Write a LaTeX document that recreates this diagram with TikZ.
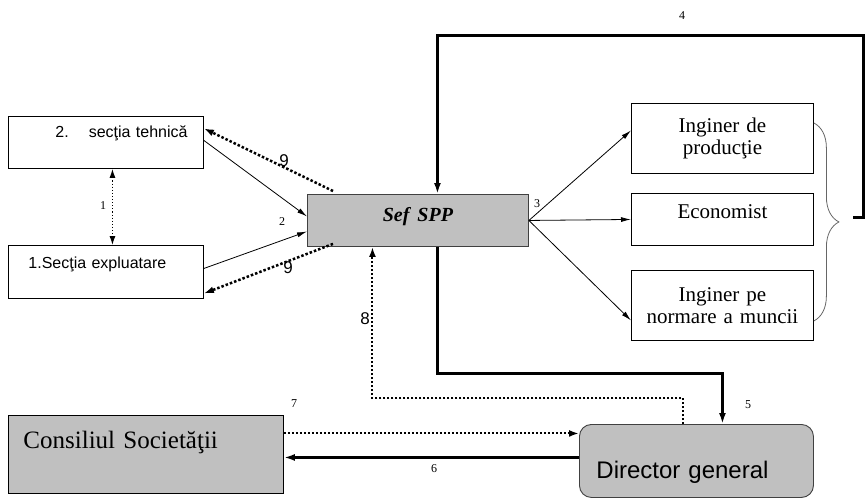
\documentclass[tikz,border=0pt]{standalone}
\usepackage{fontspec}
\setmainfont{Liberation Serif}
\setsansfont{Liberation Sans}
\usepackage{xcolor}
\usetikzlibrary{
  arrows.meta,
  positioning,
  calc,
  decorations.pathreplacing
}
\definecolor{boxgray}{RGB}{192,192,192}

\begin{document}
\begin{tikzpicture}[
    x=1pt, y=-1pt,
    every node/.style={font=\fontsize{12}{14}\selectfont},
    box/.style={
      draw,
      line width=0.9pt,
      anchor=north west,
      inner xsep=4pt,
      inner ysep=3pt
    },
    sbox/.style={
      box,
      font=\sffamily\fontsize{16}{18}\selectfont,
      align=left,
      text width=187pt
    },
    rbox/.style={
      box,
      font=\fontsize{21}{22}\selectfont,
      align=center,
      minimum width=182pt,
      text width=174pt
    },
    gbox/.style={box, fill=boxgray},
    num/.style={font=\fontsize{12}{14}\selectfont, inner sep=0pt},
    bignum/.style={font=\sffamily\fontsize{17}{19}\selectfont, inner sep=0pt},
    ar/.style={-{Latex[length=10pt, width=5pt]}, line width=0.8pt},
    thk/.style={-{Latex[length=11pt, width=7pt]}, line width=3pt},
    dotar/.style={-{Latex[length=10pt, width=7pt]}, line width=2.5pt, dotted},
    fdot/.style={{Latex[length=9pt, width=6pt]}-{Latex[length=9pt, width=6pt]}, line width=1.1pt, dotted}
  ]
    \useasboundingbox (0,0) rectangle (867,499);

    % Left: the two sections
    \node[sbox, text height=18pt, text depth=28pt] (tehn) at (8,116)
      {\hspace*{43pt}2.\hspace{20pt}secţia tehnică};
    \node[sbox, text height=20pt, text depth=27pt] (expl) at (8,245)
      {\hspace*{16pt}1.Secţia expluatare};

    % Centre: Sef SPP
    \node[gbox, draw=black!75, minimum width=221pt, text width=213pt, align=center,
      text height=24pt, text depth=22pt,
      font=\bfseries\itshape\fontsize{20}{22}\selectfont] (sef) at (307,194)
      {Sef\hspace{8pt}SPP};

    % Right: the three posts
    \node[rbox, minimum height=70pt] (ing1) at (631,103) {Inginer de\\producţie};
    \node[rbox, text height=22pt, text depth=24pt] (econ) at (631,193) {Economist};
    \node[rbox, minimum height=70pt] (ing2) at (631,270) {Inginer pe\\normare a muncii};

    % Bottom: council and director
    \node[gbox, minimum width=275pt, text width=267pt, align=left,
      text height=30pt, text depth=42pt,
      font=\fontsize{25}{27}\selectfont] (cons) at (8,415)
      {\hspace*{11pt}Consiliul Societăţii};
    \node[gbox, draw=black!75, rounded corners=12pt, minimum width=234pt, text width=226pt,
      align=left, text height=51pt, text depth=16pt,
      font=\sffamily\fontsize{24}{26}\selectfont] (dir) at (579,424)
      {\hspace*{13pt}Director general};

    % Brace round the three posts
    \draw[black!60, line width=0.8pt, decorate, decoration={brace, amplitude=25pt}]
      ([yshift=-20pt]ing1.north east) -- ([yshift=20pt]ing2.south east);
    \coordinate (b4) at (853,217);

    % Connectors
    \draw[fdot] ([xshift=6.5pt]tehn.south) -- ([xshift=6.5pt]expl.north);
    \draw[ar] ([yshift=2pt]tehn.east) -- ([yshift=4pt]sef.west);
    \draw[ar] ([yshift=3.5pt]expl.east) -- ([yshift=-11pt]sef.west);
    \draw[dotar] ([xshift=26pt, yshift=3pt]sef.north west) -- ([yshift=14pt]tehn.east);
    \draw[dotar] ([xshift=26pt, yshift=3pt]sef.south west) -- ([yshift=-21.5pt]expl.east);

    \draw[ar] (sef.east) -- ([yshift=8pt]ing1.west);
    \draw[ar] (sef.east) -- (econ.west);
    \draw[ar] (sef.east) -- ([yshift=-15pt]ing2.west);

    \draw[thk] (b4) -- (863,217) -- (863,35) -| ([xshift=19.5pt]sef.north);
    \draw[thk] ([xshift=19.5pt]sef.south) -- ++(0,127) -| ([xshift=26pt]dir.north);
    \draw[-{Latex[length=10pt, width=7pt]}, line width=2pt, dotted]
      ([xshift=-13pt]dir.north) -- ++(0,-26) -| ([xshift=-45.5pt]sef.south);
    \draw[-{Latex[length=10pt, width=7pt]}, line width=2pt, dotted]
      ([yshift=21pt]cons.east) -- ([yshift=21pt]cons.east -| dir.west);
    \draw[thk] ([yshift=3.5pt]dir.west) -- ([yshift=3.5pt]dir.west -| cons.east);

    % Numbers
    \node[num] (l1) at (103,206) {1};
    \node[num] (l2) at (282,222) {2};
    \node[num] (l3) at (537,204) {3};
    \node[num] (l4) at (682,16) {4};
    \node[num] (l5) at (748,405) {5};
    \node[num] (l6) at (434,469) {6};
    \node[num] (l7) at (294,404) {7};
    \node[bignum] (l8) at (365,319) {8};
    \node[bignum] (l9a) at (284,161) {9};
    \node[bignum] (l9b) at (288,268) {9};

  \end{tikzpicture}
\end{document}
